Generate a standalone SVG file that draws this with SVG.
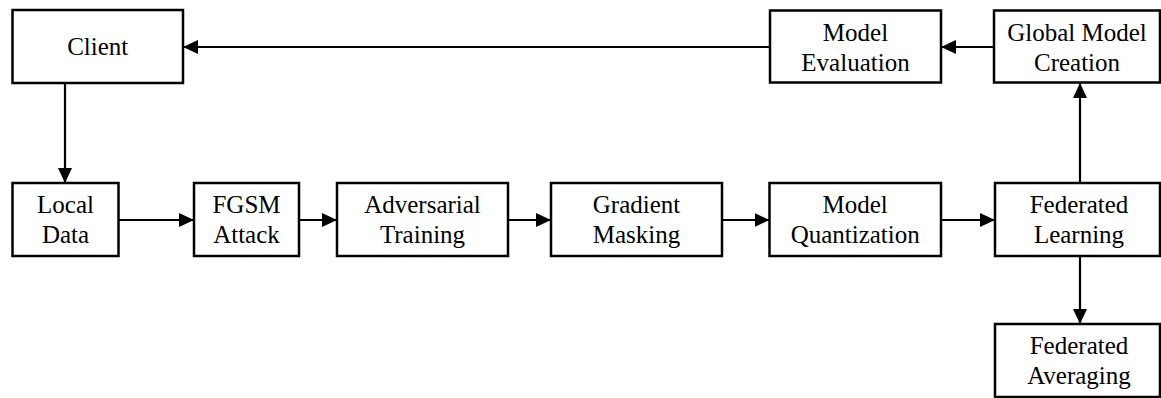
<svg xmlns="http://www.w3.org/2000/svg" width="1161" height="398" viewBox="0 0 1161 398">
  <style>
    .box { fill: #ffffff; stroke: #000000; stroke-width: 2.5; }
    .lbl { font-family: "Liberation Serif", "Times New Roman", serif; font-size: 25px; fill: #000000; text-anchor: middle; }
    .edge { fill: none; stroke: #000000; stroke-width: 2.2; marker-end: url(#arrow); }
  </style>
  <defs>
    <marker id="arrow" markerUnits="userSpaceOnUse" markerWidth="16" markerHeight="15" refX="15" refY="7" orient="auto">
      <path d="M0,0 L15,7 L0,14 Z" fill="#000000"/>
    </marker>
  </defs>
  <rect width="1161" height="398" fill="#ffffff"/>

  <g id="connectors">
    <line class="edge" x1="65" y1="83" x2="65" y2="183"/>
    <line class="edge" x1="118.5" y1="220" x2="194" y2="220"/>
    <line class="edge" x1="299" y1="220" x2="337" y2="220"/>
    <line class="edge" x1="508" y1="220" x2="551" y2="220"/>
    <line class="edge" x1="722" y1="220" x2="769.5" y2="220"/>
    <line class="edge" x1="941" y1="220" x2="995" y2="220"/>
    <line class="edge" x1="1080" y1="183" x2="1080" y2="83"/>
    <line class="edge" x1="1080" y1="256" x2="1080" y2="324"/>
    <line class="edge" x1="994" y1="47" x2="941" y2="47"/>
    <line class="edge" x1="770" y1="47" x2="183" y2="47"/>
  </g>

  <g id="client">
    <rect class="box" x="12.5" y="10" width="170.5" height="73"/>
    <text class="lbl" x="97.7" y="55">Client</text>
  </g>
  <g id="model-evaluation">
    <rect class="box" x="770" y="10.5" width="171" height="72"/>
    <text class="lbl" x="855.5" y="40.5">Model</text>
    <text class="lbl" x="855.5" y="70.5">Evaluation</text>
  </g>
  <g id="global-model-creation">
    <rect class="box" x="994" y="10.5" width="166" height="72"/>
    <text class="lbl" x="1077" y="40.5">Global Model</text>
    <text class="lbl" x="1077" y="70.5">Creation</text>
  </g>
  <g id="local-data">
    <rect class="box" x="12.5" y="183" width="106" height="73"/>
    <text class="lbl" x="65.5" y="212.5">Local</text>
    <text class="lbl" x="65.5" y="242.5">Data</text>
  </g>
  <g id="fgsm-attack">
    <rect class="box" x="194" y="183" width="105" height="73"/>
    <text class="lbl" x="246.5" y="212.5">FGSM</text>
    <text class="lbl" x="246.5" y="242.5">Attack</text>
  </g>
  <g id="adversarial-training">
    <rect class="box" x="337" y="183" width="171" height="73"/>
    <text class="lbl" x="422.5" y="212.5">Adversarial</text>
    <text class="lbl" x="422.5" y="242.5">Training</text>
  </g>
  <g id="gradient-masking">
    <rect class="box" x="551" y="183" width="171" height="73"/>
    <text class="lbl" x="636.5" y="212.5">Gradient</text>
    <text class="lbl" x="636.5" y="242.5">Masking</text>
  </g>
  <g id="model-quantization">
    <rect class="box" x="769.5" y="183" width="171.5" height="73"/>
    <text class="lbl" x="855.2" y="212.5">Model</text>
    <text class="lbl" x="855.2" y="242.5">Quantization</text>
  </g>
  <g id="federated-learning">
    <rect class="box" x="995" y="183" width="165" height="73"/>
    <text class="lbl" x="1079" y="212.5">Federated</text>
    <text class="lbl" x="1079" y="242.5">Learning</text>
  </g>
  <g id="federated-averaging">
    <rect class="box" x="995" y="324" width="165" height="73"/>
    <text class="lbl" x="1079" y="353.5">Federated</text>
    <text class="lbl" x="1079" y="383.5">Averaging</text>
  </g>
</svg>
